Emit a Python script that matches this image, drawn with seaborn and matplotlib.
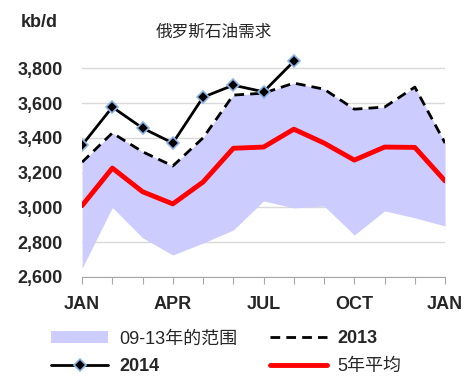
import numpy as np
import pandas as pd
import seaborn as sns
import matplotlib.pyplot as plt

sns.set_style("white")
plt.rcParams['font.family'] = ['Liberation Sans', 'Noto Sans CJK SC', 'DejaVu Sans']

months = list(range(13))
tick_labels = ['JAN', '', '', 'APR', '', '', 'JUL', '', '', 'OCT', '', '', 'JAN']

range_low = [2650, 3000, 2825, 2726, 2795, 2870, 3037, 2997, 3008, 2841, 2980, 2940, 2893]
range_high = [3260, 3428, 3320, 3238, 3400, 3646, 3657, 3715, 3680, 3565, 3577, 3692, 3370]
y2013 = [3260, 3428, 3320, 3238, 3400, 3646, 3657, 3715, 3680, 3565, 3577, 3692, 3370]
y2014 = [3358, 3577, 3456, 3370, 3634, 3703, 3665, 3840]
avg5 = [3010, 3226, 3090, 3020, 3146, 3340, 3347, 3450, 3370, 3272, 3347, 3345, 3152]

fig = plt.figure(figsize=(4.69, 3.83), dpi=100)
ax = fig.add_axes([0.175, 0.277, 0.774, 0.590])

ax.fill_between(months, range_low, range_high, color='#ccccff', lw=0,
                label='09-13年的范围', zorder=1)
sns.lineplot(x=months, y=y2013, ax=ax, color='black', lw=2, linestyle=(0, (3.5, 2.2)),
             label='2013', zorder=3)
sns.lineplot(x=months[:len(y2014)], y=y2014, ax=ax, color='black', lw=2,
             marker='D', markersize=6, markeredgecolor='#8fb4e8', markeredgewidth=1.2,
             label='2014', zorder=4)
sns.lineplot(x=months, y=avg5, ax=ax, color='#ff0000', lw=3.5, label='5年平均', zorder=2)

ax.set_xlim(0, 12)
ax.set_ylim(2600, 3900)
ax.set_yticks(np.arange(2600, 3801, 200))
ax.set_yticklabels([f'{v:,}' for v in range(2600, 3801, 200)], fontweight='bold', fontsize=13)
ax.set_xticks(months)
ax.set_xticklabels(tick_labels, fontweight='bold', fontsize=13)
ax.yaxis.grid(True, color='#d9d9d9', lw=1, zorder=0)
ax.set_axisbelow(True)
for s in ['top', 'right', 'left']:
    ax.spines[s].set_visible(False)
ax.spines['bottom'].set_color('#a6a6a6')
ax.tick_params(axis='y', length=0, pad=14)
ax.tick_params(axis='x', length=5, color='#a6a6a6', direction='out', bottom=True, pad=9)

fig.text(0.045, 0.93, 'kb/d', fontsize=13, fontweight='bold')
fig.text(0.455, 0.905, '俄罗斯石油需求', fontsize=12, ha='center')

h, l = ax.get_legend_handles_labels()
order = [l.index('09-13年的范围'), l.index('2014'), l.index('2013'), l.index('5年平均')]
ax.get_legend().remove()
leg = fig.legend([h[i] for i in order], [l[i] for i in order], ncol=2,
                 loc='lower left', bbox_to_anchor=(0.075, -0.022), frameon=False,
                 fontsize=13, handlelength=3.15, columnspacing=1.8, handletextpad=0.6,
                 labelspacing=0.6)
for t in leg.get_texts():
    if t.get_text() in ('2013', '2014'):
        t.set_fontweight('bold')

fig.savefig('out.png', dpi=100)
